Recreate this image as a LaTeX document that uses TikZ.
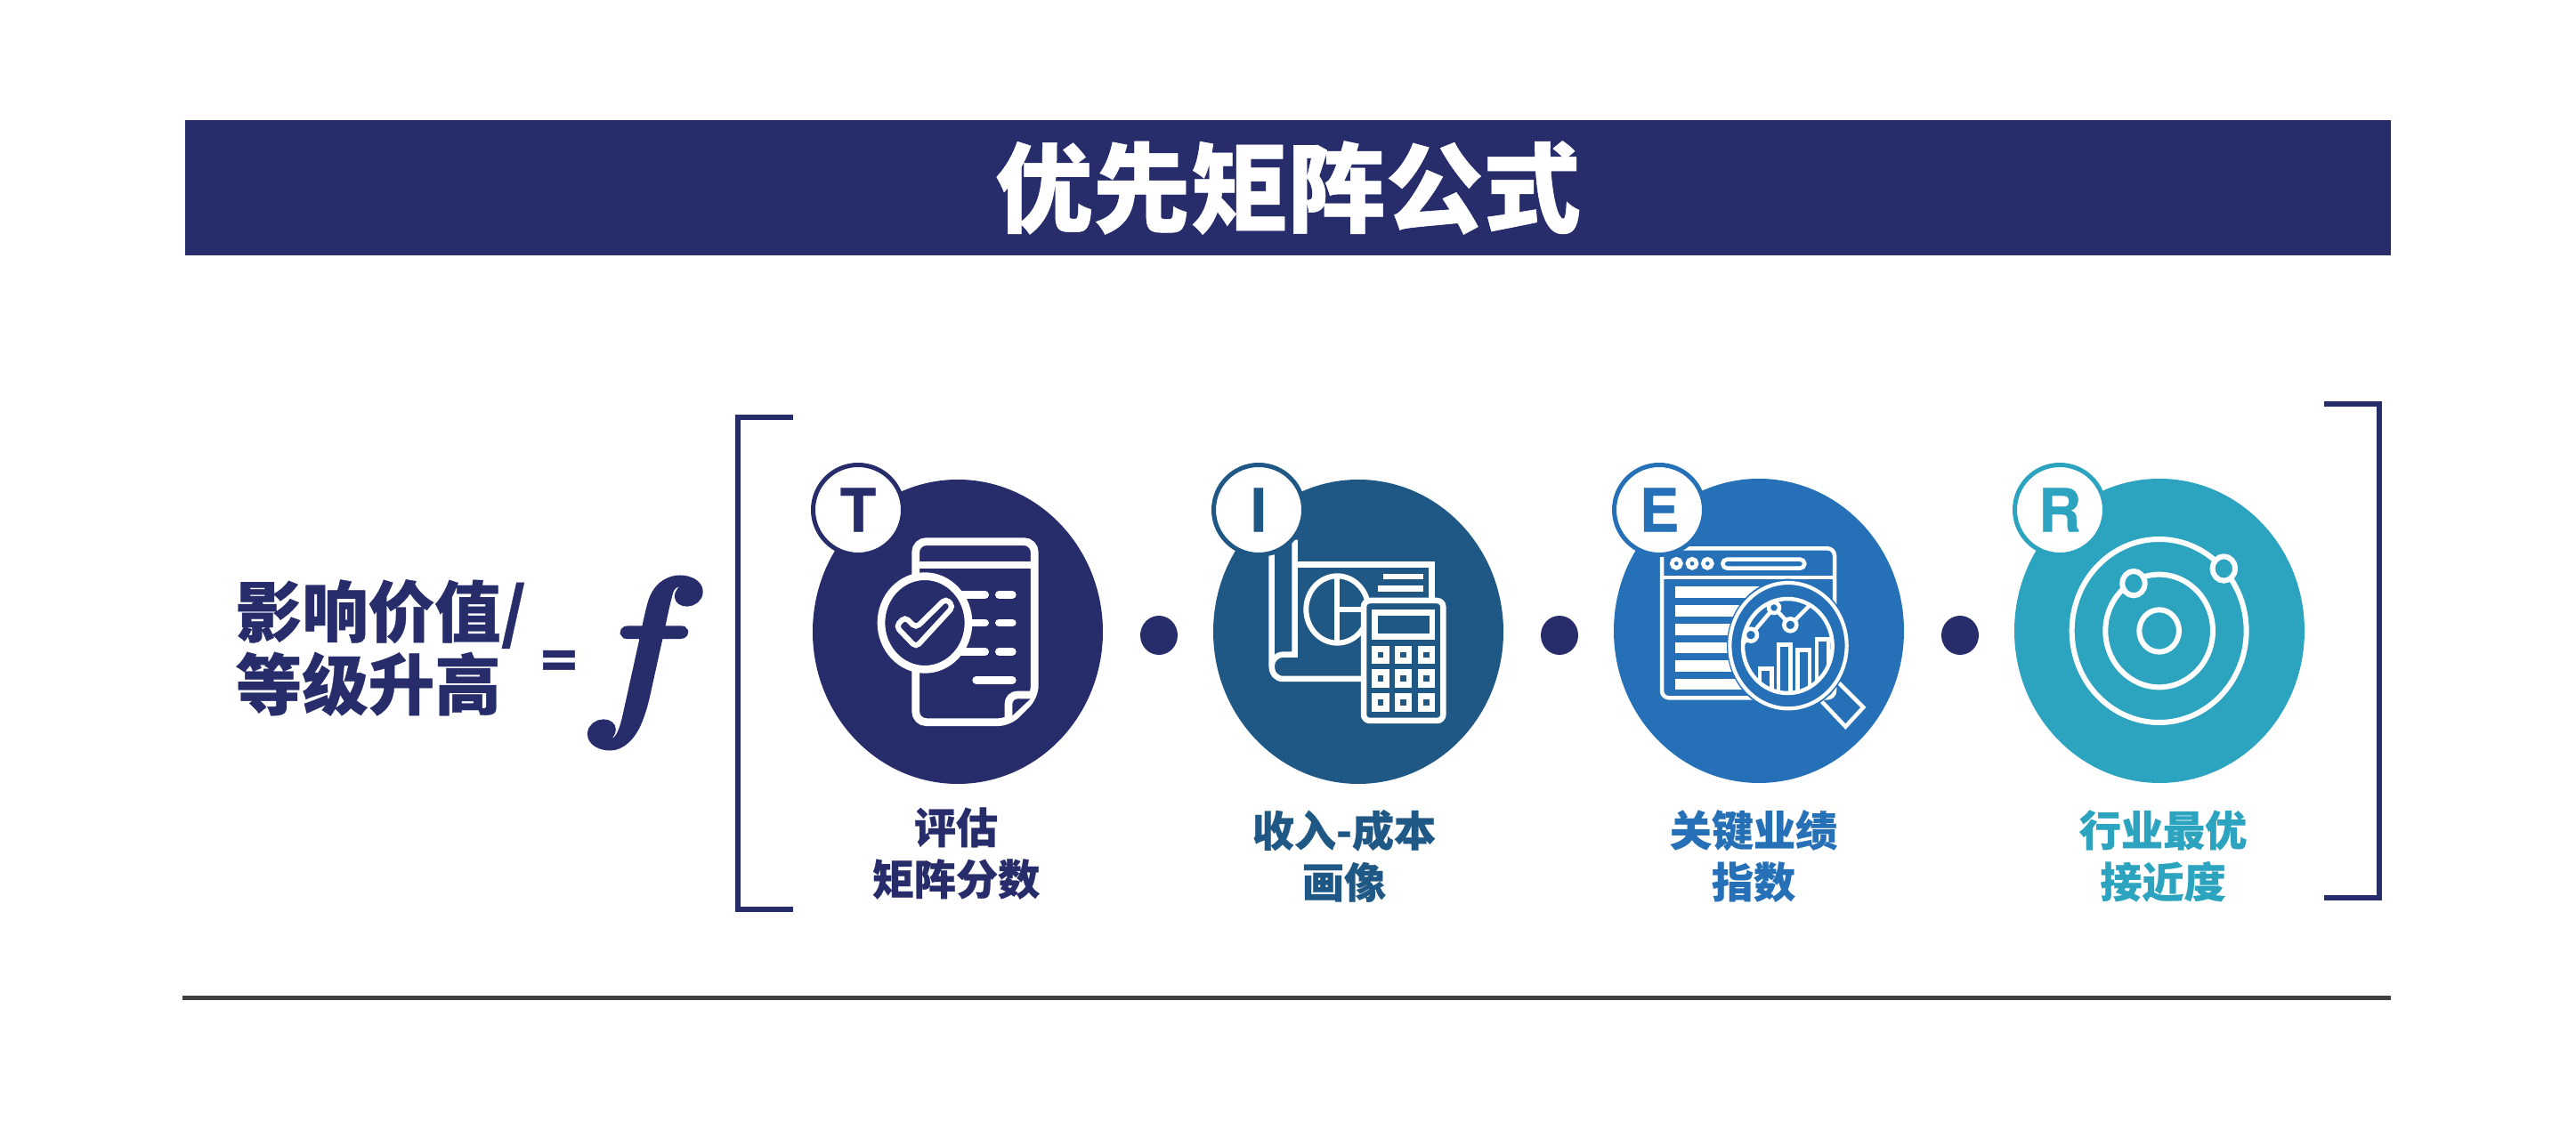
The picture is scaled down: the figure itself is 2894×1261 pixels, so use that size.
\documentclass[tikz,border=0pt]{standalone}
\usepackage{fontspec}
\newfontfamily\cjk{Noto Sans CJK SC}[BoldFeatures={FakeBold=0.5}]
\newfontfamily\latinbold{TeX Gyre Heros}[BoldFeatures={FakeBold=0.6}]
\newfontfamily\funcfont{latinmodern-math.otf}[FakeBold=4]
\usetikzlibrary{shapes.geometric}
\definecolor{navy}{HTML}{272D6A}
\definecolor{tcol}{HTML}{272D6A}
\definecolor{icol}{HTML}{205885}
\definecolor{ecol}{HTML}{2570B7}
\definecolor{rcol}{HTML}{2DA4BF}
\definecolor{rulecol}{HTML}{404040}
\tikzset{
  disc/.style={ellipse,inner sep=0pt,minimum width=32.6mm,minimum height=34.2mm,fill=#1},
  badge/.style={circle,inner sep=0pt,minimum size=10.1mm,line width=.5mm,draw=#1,fill=white,text=#1,
    font=\latinbold\bfseries\fontsize{19}{19}\selectfont},
  tag/.style={inner sep=0pt,align=center,text=#1,font=\cjk\bfseries\fontsize{13.4}{16.5}\selectfont},
  dot/.style={ellipse,inner sep=0pt,minimum width=4.2mm,minimum height=4.4mm,fill=navy},
  bracket/.style={draw=navy,line width=.6mm,line join=miter},
  ico/.style={draw=white,line width=#1},
  ico/.default=.87mm
}
\begin{document}
\begin{tikzpicture}[x=.1mm,y=-.1mm]
  \useasboundingbox (0,0) rectangle (2894,1261);
  % title bar
  \node (titlebar) at (1447,211) [inner sep=0pt,minimum width=247.8mm,minimum height=15.2mm,fill=navy,text=white,
    font=\cjk\bfseries\fontsize{31.2}{32}\selectfont] {优先矩阵公式};
  % left side of the formula
  \node (impact) at (264,728) [anchor=west,inner sep=0pt,align=left,text=navy,
    font=\cjk\bfseries\fontsize{21.2}{23.3}\selectfont] {影响价值/\\等级升高};
  \node (equals) at (628,746) [inner sep=0pt,text=navy,font=\latinbold\bfseries\fontsize{21.5}{22}\selectfont] {=};
  \node (func) at (711,745) [inner sep=0pt,text=navy] {\scalebox{1.16}[1]{\funcfont\fontsize{59}{60}\selectfont 𝑓}};
  % brackets
  \draw[bracket] (891,469) -- (829,469) -- (829,1022) -- (891,1022);
  \draw[bracket] (2611,454) -- (2673,454) -- (2673,1009) -- (2611,1009);
  % discs and dots
  \foreach \nm/\cx/\cy/\col in {T/1076/710/tcol,I/1526/710/icol,E/1976/709/ecol,R/2426/709/rcol}
    \node[disc=\col] (disc\nm) at (\cx,\cy) {};
  \foreach \nm/\cx in {a/1302,b/1752,c/2202}
    \node[dot] (dot\nm) at (\cx,714) {};

  % document with check mark
  \begin{scope}[shift={(880,500)},scale=1/3]
    \draw[ico,rounded corners=1.2mm] (446,600) -- (446,326) -- (847,326) -- (847,848) -- (760,935) -- (446,935) -- cycle;
    \draw[ico] (446,405) -- (847,405);
    \draw[ico,line cap=round] (560,505) -- (680,505) (727,505) -- (772,505)
      (560,600) -- (680,600) (727,600) -- (772,600)
      (560,697) -- (680,697) (727,697) -- (772,697)
      (650,793) -- (772,793);
    \draw[ico,fill=tcol,rounded corners=1mm] (847,843) -- (759,843) -- (759,925);
    \draw[ico,fill=tcol] (477,600) ellipse[x radius=147,y radius=157];
    \draw[ico=.6mm,rounded corners=.5mm] (380,612) -- (410,580) -- (447,617) -- (548,518) -- (573,545) -- (447,682) -- cycle;
  \end{scope}

  % plan with calculator
  \begin{scope}[shift={(1340,500)},scale=1/3]
    \draw[ico=.65mm] (266,370) -- (266,745) .. controls (266,772) and (282,789) .. (305,789) -- (570,789);
    \draw[ico=.65mm] (344,320) -- (344,707) -- (305,707) .. controls (282,707) and (266,725) .. (266,745);
    \draw[ico=.65mm] (344,403) -- (806,403) -- (806,520);
    \draw[ico=.65mm] (642,444) -- (777,444) (623,484) -- (777,484);
    \draw[ico=.6mm] (487,555) ellipse[x radius=105,y radius=113];
    \draw[ico=.6mm] (487,442) -- (487,668) (487,555) -- (570,555);
    \draw[ico=.65mm,fill=icol,rounded corners=.7mm] (576,525) rectangle (844,930);
    \draw[ico=.65mm] (613,565) rectangle (807,646);
    \foreach \bx in {633,710,788}
      \foreach \by in {708,788,869} {
        \fill[white] (\bx-29,\by-31) rectangle (\bx+29,\by+31);
        \fill[icol] (\bx-10,\by-10) rectangle (\bx+10,\by+10);
      }
  \end{scope}

  % browser window with magnifier
  \begin{scope}[shift={(1790,500)},scale=1/3]
    \draw[ico=.45mm,rounded corners=.8mm] (231,349) rectangle (813,853);
    \draw[ico=.45mm] (231,447) -- (813,447);
    \foreach \bx in {280,333,385}
      \draw[ico=.47mm] (\bx,400) circle[radius=15];
    \draw[ico=.45mm,rounded corners=.5mm] (436,386) rectangle (712,416);
    \foreach \ry in {478,541,603,665,726,788}
      \fill[white] (276,\ry) rectangle (560,\ry+38);
    \draw[ico=.45mm,line join=miter] (825,800) -- (910,885) -- (850,950) -- (765,860);
    \fill[ecol] (657,677) ellipse[x radius=207,y radius=225];
    \draw[ico=.42mm] (657,677) ellipse[x radius=197,y radius=212];
    \begin{scope}
      \clip (655,678) ellipse[x radius=157,y radius=165];
      \draw[ico=.45mm] (561,860) -- (561,754) -- (601,754) -- (601,860);
      \draw[ico=.45mm] (624,860) -- (624,674) -- (664,674) -- (664,860);
      \draw[ico=.45mm] (689,860) -- (689,691) -- (729,691) -- (729,860);
      \draw[ico=.45mm] (753,860) -- (753,656) -- (792,656) -- (792,860);
      \draw[ico=.45mm] (495,680) -- (531,641) -- (609,549) -- (664,607) -- (745,525);
    \end{scope}
    \draw[ico=.45mm] (655,678) ellipse[x radius=151,y radius=159];
    \draw[ico=.45mm,fill=ecol] (531,641) circle[radius=21];
    \draw[ico=.45mm,fill=ecol] (609,549) circle[radius=18];
    \draw[ico=.45mm,fill=ecol] (664,607) circle[radius=21];
  \end{scope}

  % orbits
  \begin{scope}[shift={(2240,500)},scale=1/3]
    \draw[ico=.6mm] (557,627) ellipse[x radius=294,y radius=309];
    \draw[ico=.6mm] (557,627) ellipse[x radius=181,y radius=190];
    \draw[ico=.6mm] (557,627) ellipse[x radius=67,y radius=71];
    \draw[ico=.6mm,fill=rcol] (775,417) ellipse[x radius=38,y radius=41];
    \draw[ico=.6mm,fill=rcol] (471,467) ellipse[x radius=38,y radius=41];
  \end{scope}

  % badges and captions
  \foreach \nm/\cx/\col in {T/964/tcol,I/1414/icol,E/1864/ecol,R/2314/rcol}
    \node[badge=\col] (badge\nm) at (\cx,573) {\nm};
  \node[tag=tcol] (tagT) at (1074,959) {评估\\矩阵分数};
  \node[tag=icol] (tagI) at (1510,962) {收入-成本\\画像};
  \node[tag=ecol] (tagE) at (1970,962) {关键业绩\\指数};
  \node[tag=rcol] (tagR) at (2430,962) {行业最优\\接近度};
  % bottom rule
  \coordinate (ruleL) at (205,1122);
  \coordinate (ruleR) at (2686,1122);
  \draw[draw=rulecol,line width=.5mm] (ruleL) -- (ruleR);
\end{tikzpicture}
\end{document}
